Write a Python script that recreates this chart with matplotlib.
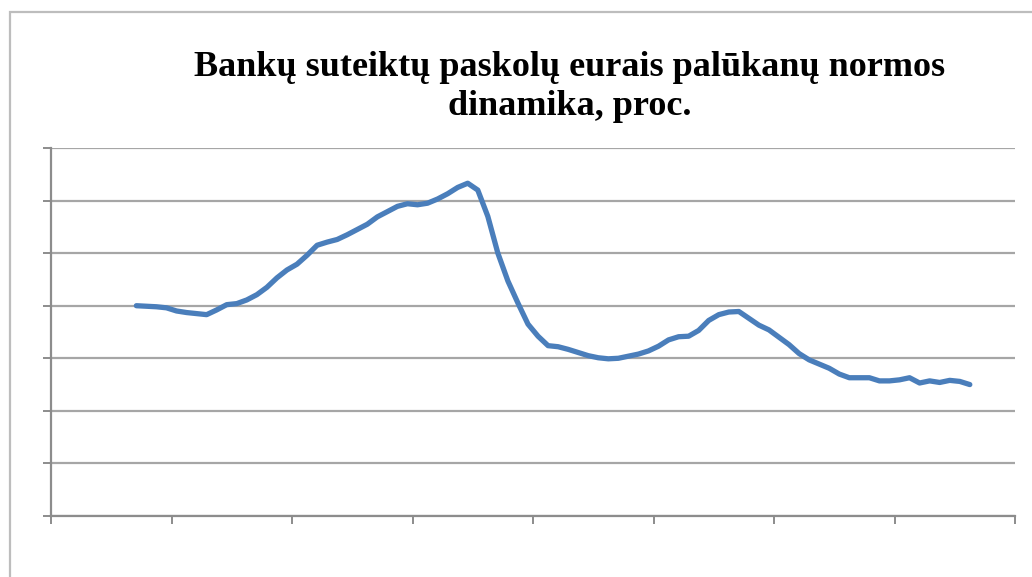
import matplotlib

matplotlib.use("Agg")

import matplotlib.pyplot as plt
import numpy as np
from matplotlib.patches import Rectangle

TITLE = "Bankų suteiktų paskolų eurais palūkanų normos\ndinamika, proc."

# monthly rate, %
RATES = [
    4.00, 3.99, 3.98, 3.96, 3.90, 3.87, 3.85, 3.83, 3.92, 4.02,
    4.04, 4.11, 4.21, 4.35, 4.53, 4.68, 4.79, 4.96, 5.15, 5.21,
    5.26, 5.35, 5.45, 5.55, 5.69, 5.79, 5.89, 5.94, 5.92, 5.95,
    6.03, 6.13, 6.25, 6.33, 6.20, 5.70, 5.00, 4.47, 4.05, 3.65,
    3.42, 3.24, 3.22, 3.17, 3.11, 3.05, 3.01, 2.99, 3.00, 3.04,
    3.08, 3.14, 3.23, 3.35, 3.41, 3.42, 3.53, 3.72, 3.83, 3.88,
    3.89, 3.76, 3.63, 3.54, 3.40, 3.26, 3.09, 2.97, 2.89, 2.81,
    2.70, 2.63, 2.63, 2.63, 2.57, 2.57, 2.59, 2.63, 2.53, 2.57,
    2.54, 2.58, 2.56, 2.50,
]

FIRST_MONTH = 8
N_MONTHS = 96
Y_MAX = 7

LINE_COLOR = "#4a7ebb"
GRID_COLOR = "#a6a6a6"
AXIS_COLOR = "#8c8c8c"


def main():
    fig = plt.figure(figsize=(10.32, 5.77), dpi=100)

    # outer chart frame, cut off at the right and bottom
    fig.patches.append(
        Rectangle(
            (10 / 1032, -0.1),
            1.2,
            1.1 - 12 / 577,
            transform=fig.transFigure,
            fill=False,
            edgecolor="#bdbdbd",
            linewidth=1.6,
        )
    )

    ax = fig.add_axes([51 / 1032, 1 - 516 / 577, 964 / 1032, 368 / 577])

    months = np.arange(FIRST_MONTH, FIRST_MONTH + len(RATES)) + 0.5
    ax.plot(
        months,
        RATES,
        color=LINE_COLOR,
        linewidth=3.8,
        solid_capstyle="round",
        solid_joinstyle="round",
        zorder=3,
    )

    ax.set_xlim(0, N_MONTHS)
    ax.set_ylim(0, Y_MAX)
    ax.set_xticks(np.arange(0, N_MONTHS + 1, 12))
    ax.set_yticks(np.arange(0, Y_MAX + 1, 1))
    ax.set_xticklabels([])
    ax.set_yticklabels([])

    ax.grid(axis="y", color=GRID_COLOR, linewidth=1.6)
    ax.set_axisbelow(True)

    for side in ["top", "right"]:
        ax.spines[side].set_visible(False)
    for side in ["left", "bottom"]:
        ax.spines[side].set_color(AXIS_COLOR)
        ax.spines[side].set_linewidth(1.6)

    ax.tick_params(
        axis="both",
        direction="out",
        length=6,
        width=1.4,
        color=AXIS_COLOR,
    )

    fig.text(
        570 / 1032,
        1 - 87 / 577,
        TITLE,
        ha="center",
        va="center",
        fontsize=26,
        fontweight="bold",
        family="Liberation Serif",
        linespacing=1.22,
    )

    fig.savefig("out.png", dpi=100)


if __name__ == "__main__":
    main()
